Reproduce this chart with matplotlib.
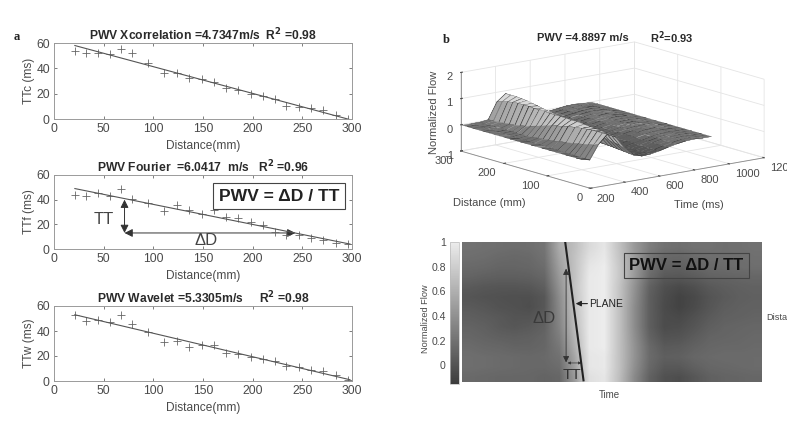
import matplotlib as mpl
mpl.use('Agg')
import matplotlib.pyplot as plt
import numpy as np
from matplotlib.colors import LinearSegmentedColormap
from matplotlib.patches import FancyArrowPatch

mpl.rc('font', family=['Liberation Sans', 'DejaVu Sans'], size=8.2)
mpl.rc('axes', unicode_minus=False)

W, H = 787, 421
INK = '#4a4a4a'

# panel a
dist = [21, 32, 44, 56, 67, 79, 95, 111, 124, 136, 149, 161, 173, 185, 198, 210, 222, 234, 247, 259, 271, 284, 296]
ttc = [54, 52, 52.5, 51, 55, 52, 44, 36, 36, 32.5, 31.5, 29, 24.5, 23, 19.5, 18, 16, 10, 9.5, 9, 7, 3, 0]
ttf = [44, 43, 45, 43, 48.5, 40.5, 37.5, 31, 36, 32, 28.5, 32, 26, 25.5, 22, 19.5, 13.5, 11, 11, 9, 7, 5, 4]
ttw = [53, 48, 48.5, 47, 53, 45.5, 39.5, 31.5, 32, 27, 28.5, 28.5, 22.5, 21.5, 19.5, 17.5, 16, 12, 11.5, 9, 8, 4.5, 1]
fit_x = [21, 298]
fit_c = [58, -0.5]
fit_f = [49, 4]
fit_w = [53, 1]
xticks_a = [0, 50, 100, 150, 200, 250, 300]
yticks_a = [0, 20, 40, 60]

# panel b surface: one row per distance, front to back
times = [200, 250, 300, 350, 400, 450, 500, 550, 600, 650, 700, 750, 800, 850, 900, 950]
flow3d = [
    [.00, -.08, .45, .78, .62, .15, -.18, -.28, -.26, -.20, -.12, -.05, .00, .02, .00, .00],
    [.00, -.08, .38, .78, .66, .20, -.16, -.28, -.26, -.20, -.12, -.05, .00, .02, .00, .00],
    [.00, -.08, .34, .78, .68, .24, -.14, -.27, -.26, -.19, -.12, -.05, .00, .02, .00, .00],
    [.00, -.07, .30, .78, .70, .28, -.12, -.26, -.26, -.19, -.11, -.05, .00, .02, .00, .00],
    [.00, -.07, .26, .76, .72, .32, -.10, -.26, -.25, -.19, -.11, -.04, .00, .02, .01, .00],
    [.00, -.07, .22, .74, .74, .36, -.08, -.25, -.25, -.18, -.11, -.04, .00, .02, .01, .00],
    [.00, -.06, .18, .70, .76, .40, -.05, -.24, -.25, -.18, -.10, -.04, .01, .03, .01, .00],
    [.00, -.06, .14, .66, .78, .44, -.02, -.23, -.24, -.18, -.10, -.04, .01, .03, .01, .00],
    [.00, -.06, .10, .60, .78, .48, .02, -.21, -.24, -.17, -.10, -.04, .01, .03, .01, .00],
    [.00, -.05, .08, .56, .80, .52, .05, -.20, -.24, -.17, -.10, -.03, .01, .03, .01, .00],
    [.00, -.05, .05, .50, .80, .56, .08, -.18, -.23, -.17, -.09, -.03, .01, .03, .01, .00],
    [.00, -.05, .03, .44, .80, .60, .12, -.16, -.23, -.16, -.09, -.03, .01, .03, .01, .00],
    [.00, -.04, .02, .38, .80, .64, .16, -.14, -.22, -.16, -.09, -.03, .02, .03, .01, .00],
    [.00, -.04, .00, .32, .82, .68, .20, -.12, -.21, -.16, -.08, -.03, .02, .03, .01, .00],
    [.00, -.03, .00, .26, .82, .72, .25, -.10, -.20, -.15, -.08, -.02, .02, .04, .01, .00],
    [.00, -.03, .00, .20, .82, .76, .30, -.08, -.19, -.15, -.08, -.02, .02, .04, .01, .00],
    [.00, -.02, .00, .16, .84, .80, .35, -.06, -.18, -.14, -.07, -.02, .02, .04, .01, .00],
    [.00, -.02, .00, .12, .84, .84, .40, -.04, -.16, -.14, -.07, -.02, .02, .04, .01, .00],
    [.00, -.02, .00, .10, .84, .88, .45, -.02, -.15, -.13, -.06, -.01, .03, .04, .02, .00],
    [.00, -.01, .00, .08, .82, .90, .50, .02, -.14, -.12, -.06, -.01, .03, .05, .02, .00],
    [.00, -.01, .00, .06, .78, .92, .55, .05, -.12, -.12, -.05, .00, .03, .05, .02, .00],
    [.00, .00, .00, .05, .72, .92, .60, .10, -.10, -.10, -.04, .00, .04, .05, .02, .00],
    [.00, .00, .00, .04, .66, .92, .66, .14, -.08, -.10, -.04, .00, .04, .05, .02, .00],
]

# panel b map: rows top to bottom
flowmap = [
    [.20, .19, .18, .17, .18, .22, .58, .70, .88, .96, .72, .46, .28, .20, .18, .20, .20, .18, .19, .20],
    [.18, .17, .15, .14, .15, .20, .54, .72, .92, .98, .74, .48, .24, .14, .13, .16, .18, .18, .18, .19],
    [.15, .14, .12, .12, .13, .17, .50, .72, .96, 1.0, .76, .48, .20, .10, .09, .12, .15, .16, .17, .18],
    [.11, .09, .08, .08, .09, .13, .46, .72, .98, 1.0, .76, .46, .16, .04, .03, .06, .10, .11, .12, .13],
    [.05, .03, .02, .02, .03, .08, .42, .74, .98, 1.0, .74, .42, .10, -.02, -.06, -.02, .04, .07, .09, .10],
    [.02, .00, -.01, -.02, -.02, .03, .38, .72, .98, 1.0, .74, .40, .08, -.04, -.10, -.06, .01, .05, .08, .09],
    [.05, .03, .00, -.01, -.03, .03, .36, .72, .98, 1.0, .72, .38, .08, -.05, -.10, -.05, .02, .07, .09, .10],
    [.08, .06, .04, .01, .01, .07, .34, .70, .98, 1.0, .72, .38, .08, -.04, -.06, -.01, .05, .09, .10, .11],
    [.11, .09, .05, .03, .05, .10, .32, .68, .98, 1.0, .72, .38, .08, -.04, -.03, .02, .08, .11, .12, .13],
    [.13, .11, .09, .08, .09, .12, .28, .64, .98, 1.0, .72, .40, .11, .00, .01, .06, .11, .12, .13, .14],
    [.16, .14, .13, .11, .11, .13, .24, .60, .98, 1.0, .72, .42, .15, .05, .06, .10, .13, .14, .14, .15],
    [.18, .17, .16, .15, .14, .15, .20, .54, .96, .98, .72, .42, .16, .08, .09, .13, .15, .16, .16, .16],
    [.18, .17, .16, .15, .14, .14, .17, .50, .96, .98, .72, .40, .14, .04, .04, .09, .13, .14, .15, .16],
    [.15, .14, .13, .13, .13, .11, .13, .46, .92, .96, .70, .36, .10, -.01, -.03, .03, .09, .11, .12, .13],
]
cbar_ticks = [0, .2, .4, .6, .8, 1]
cbar_labels = ['0', '0.2', '0.4', '0.6', '0.8', '1']


def rect(left, top, right, bottom):
    return [left/W, 1 - bottom/H, (right - left)/W, (bottom - top)/H]


def label(x, y, s, **kw):
    kw.setdefault('ha', 'center')
    kw.setdefault('va', 'center')
    kw.setdefault('color', INK)
    return fig.text(x/W, 1 - y/H, s, **kw)


def line_panel(top, bottom, y, fit, ylabel, title):
    ax = fig.add_axes(rect(54, top, 352, bottom))
    ax.plot(dist, y, '+', color='#666666', ms=5.2, mew=0.6)
    ax.plot(fit_x, fit, color='#555555', lw=0.8)
    ax.set(xlim=(0, 300), ylim=(0, 60), xticks=xticks_a, yticks=yticks_a)
    ax.tick_params(direction='in', length=2, width=0.5, top=True, right=True,
                   colors=INK, labelsize=8.7, pad=3)
    for s in ax.spines.values():
        s.set_color('#9a9a9a')
        s.set_linewidth(0.7)
    ax.set_ylabel(ylabel, fontsize=8.6, color=INK, labelpad=1)
    label(203, bottom + 27, 'Distance(mm)', fontsize=8.6)
    label(203, top - 8, title, fontsize=8.7, fontweight='bold', color='#2a2a2a')
    return ax


fig = plt.figure(figsize=(W/100, H/100), dpi=100)

label(17, 37, 'a', family='Liberation Serif', fontweight='bold', fontsize=9, color='#222222')
line_panel(43, 119, ttc, fit_c, 'TTc (ms)', r'PWV Xcorrelation =4.7347m/s  R$\mathbf{^2}$ =0.98')
ax = line_panel(175, 249, ttf, fit_f, 'TTf (ms)', r'PWV Fourier  =6.0417  m/s   R$\mathbf{^2}$ =0.96')
line_panel(306, 381, ttw, fit_w, 'TTw (ms)', r'PWV Wavelet =5.3305m/s     R$\mathbf{^2}$ =0.98')

# annotations on the Fourier panel
ax.add_patch(FancyArrowPatch((71, 40), (71, 13), arrowstyle='<|-|>', mutation_scale=12,
                             color='#333333', lw=0.7, shrinkA=0, shrinkB=0))
ax.add_patch(FancyArrowPatch((71, 13), (243, 13), arrowstyle='<|-|>', mutation_scale=12,
                             color='#333333', lw=0.7, shrinkA=0, shrinkB=0))
ax.text(50, 24, 'TT', fontsize=12, color='#444444', ha='center', va='center')
ax.text(153, 7, '\u0394D', fontsize=12, color='#444444', ha='center', va='center', zorder=5)
ax.text(0.755, 0.716, 'PWV = \u0394D / TT', transform=ax.transAxes, fontsize=12.6, fontweight='bold',
        color='#222222', ha='center', va='center', zorder=6,
        bbox=dict(boxstyle='square,pad=0.32', fc='white', ec='#444444', lw=0.8))

# 3d surface
ax3 = fig.add_axes(rect(435, 29, 785, 206), projection='3d', proj_type='ortho')
ax3.set_box_aspect((219, 209, 80), zoom=1.73)
ax3.view_init(elev=13, azim=-128)
ax3.patch.set_alpha(0)

# doubled rows give a thin dark strip along each distance line
Y = np.repeat(dist, 2).astype(float)
Y[1::2] += 0.9
Z = np.repeat(np.array(flow3d), 2, axis=0)
X = np.tile(np.array(times, float), (len(Y), 1))
Y2 = np.tile(Y[:, None], (1, len(times)))
Zm = 0.25*(Z[:-1, :-1] + Z[1:, :-1] + Z[:-1, 1:] + Z[1:, 1:])
grays = np.clip(0.40 + 0.5*(Zm + 0.1), 0.3, 0.85)
faces = np.dstack([grays, grays, grays, np.ones_like(grays)])
faces[0::2] = (0.15, 0.15, 0.15, 1)
surf = ax3.plot_surface(X, Y2, Z, facecolors=faces, rstride=1, cstride=1, shade=False,
                        linewidth=0, antialiased=True)
surf.set_edgecolor('face')
surf.set_linewidth(0.15)
surf.set_clip_on(False)  # the 3d axes patch is a square, it would cut the surface
ax3.set(xlim=(200, 1200), ylim=(0, 300), zlim=(-1, 2),
        xticks=[200, 400, 600, 800, 1000, 1200], yticks=[0, 100, 200, 300], zticks=[-1, 0, 1, 2])
ax3.set_xticklabels(['200', '400', '600', '800', '1000', '120'])
for axis in (ax3.xaxis, ax3.yaxis, ax3.zaxis):
    axis.set_pane_color((1, 1, 1, 0))
    axis.line.set_color('#8a8a8a')
    axis.line.set_linewidth(0.6)
    axis._axinfo['grid'].update(color='#e4e4e4', linewidth=0.6)
    axis._axinfo['tick'].update(inward_factor=0.0, outward_factor=0.12)
ax3.tick_params(labelsize=8, colors=INK, pad=0)
ax3.tick_params(axis='x', pad=-5)
ax3.tick_params(axis='y', pad=-5)
ax3.tick_params(axis='z', pad=-5.5)
for t in ax3.get_xticklabels():
    t.set_ha('left')
for t in ax3.get_yticklabels():
    t.set_ha('right')

label(446, 40, 'b', family='Liberation Serif', fontweight='bold', fontsize=9, color='#222222')
label(583, 38, 'PWV =4.8897 m/s', fontsize=8, fontweight='bold', color='#2a2a2a')
label(672, 38, r'R$\mathbf{^2}$=0.93', fontsize=8, fontweight='bold', color='#2a2a2a')
label(434, 112, 'Normalized Flow', fontsize=8, rotation=90)
label(489, 203, 'Distance (mm)', fontsize=8)
label(699, 205, 'Time (ms)', fontsize=8)

# map and colour bar
cmap = LinearSegmentedColormap.from_list('g', ['#3c3c3c', '#ececec'])
axm = fig.add_axes(rect(462, 242, 762, 382))
im = axm.imshow(flowmap, cmap=cmap, vmin=-0.15, vmax=1, aspect='auto', extent=(0, 1, 0, 1),
                interpolation='bilinear')
axm.set_axis_off()
cax = fig.add_axes(rect(450, 242, 459, 384))
cb = fig.colorbar(im, cax=cax, ticks=cbar_ticks)
cb.ax.yaxis.set_ticks_position('left')
cb.ax.set_yticklabels(cbar_labels)
cb.ax.tick_params(length=0, labelsize=7.6, colors=INK, pad=3)
cb.outline.set_edgecolor('#bbbbbb')
cb.outline.set_linewidth(0.5)

axm.plot([0.344, 0.405], [1, 0.012], color='#222222', lw=1.5)
axm.add_patch(FancyArrowPatch((0.347, 0.81), (0.347, 0.14), arrowstyle='<|-|>', mutation_scale=9,
                              color='#333333', lw=0.6, shrinkA=0, shrinkB=0))
axm.add_patch(FancyArrowPatch((0.352, 0.136), (0.398, 0.136), arrowstyle='<|-|>', mutation_scale=4,
                              color='#333333', lw=0.5, shrinkA=0, shrinkB=0))
axm.add_patch(FancyArrowPatch((0.418, 0.56), (0.379, 0.56), arrowstyle='-|>', mutation_scale=8,
                              color='#222222', lw=0.8, shrinkA=0, shrinkB=0))
axm.text(0.425, 0.56, 'PLANE', fontsize=7.4, color='#222222', va='center')
axm.text(0.275, 0.457, '\u0394D', fontsize=12, color='#3a3a3a', ha='center', va='center')
axm.text(0.366, 0.05, 'TT', fontsize=11, color='#333333', ha='center', va='center')
axm.text(0.748, 0.833, 'PWV = \u0394D / TT', fontsize=12, fontweight='bold', color='#111111',
         ha='center', va='center', bbox=dict(boxstyle='square,pad=0.32', fc='none', ec='#444444', lw=0.8))

label(766, 318, 'Distance', fontsize=6.6, ha='left')
label(609, 395, 'Time', fontsize=7)
label(426, 319, 'Normalized Flow', fontsize=6.6, rotation=90)

fig.savefig('out.png', dpi=100)
